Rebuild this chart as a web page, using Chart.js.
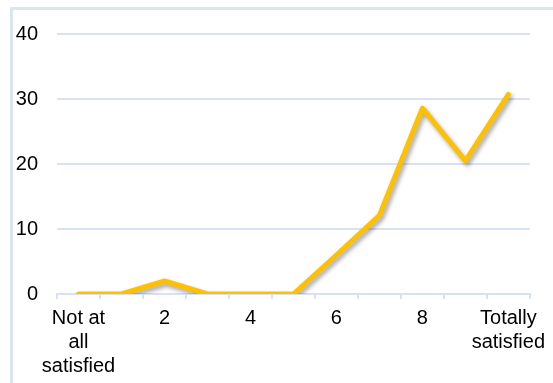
<!DOCTYPE html>
<html>
<head>
<meta charset="utf-8">
<script src="https://cdn.jsdelivr.net/npm/chart.js@4"></script>
<style>
  html, body { margin: 0; padding: 0; background: #fff; overflow: hidden; }
  #wrap { position: relative; width: 553px; height: 383px; }
  #frame { position: absolute; left: 10px; top: 7px; width: 600px; height: 420px;
           border-left: 3px solid #dae5f3; border-top: 3px solid #dae5f3; box-sizing: border-box; }
  #c { position: absolute; left: 0; top: 0; }
</style>
</head>
<body>
<div id="wrap">
  <div id="frame"></div>
  <canvas id="c" width="553" height="383"></canvas>
</div>
<script>
// Satisfaction rating scale (0 = not at all, 10 = totally)
const categories = [
  ["Not at", "all", "satisfied"], "1", "2", "3", "4", "5", "6", "7", "8", "9", ["Totally", "satisfied"]
];
// Share of respondents per rating (%)
const shares = [0, 0, 2, 0, 0, 0, 6, 12.1, 28.6, 20.5, 30.7];
const yTicks = [0, 10, 20, 30, 40];

const gridBlue = '#d7e3f2';
const font = { family: '"Liberation Sans", Arial, sans-serif', size: 20 };

// soft drop shadow under the line
const shadowPlugin = {
  id: 'lineShadow',
  beforeDatasetsDraw(chart) {
    const ctx = chart.ctx;
    ctx.save();
    ctx.shadowColor = 'rgba(0,0,0,0.35)';
    ctx.shadowBlur = 4;
    ctx.shadowOffsetX = 2;
    ctx.shadowOffsetY = 3;
  },
  afterDatasetsDraw(chart) {
    chart.ctx.restore();
  }
};

new Chart(document.getElementById('c'), {
  type: 'line',
  data: {
    labels: categories,
    datasets: [{
      data: shares,
      borderColor: '#ffc000',
      borderWidth: 5,
      borderJoinStyle: 'round',
      borderCapStyle: 'round',
      pointRadius: 0,
      tension: 0,
      fill: false
    }]
  },
  options: {
    responsive: false,
    animation: false,
    devicePixelRatio: 1,
    layout: { padding: { top: 34, right: 21, left: 0, bottom: 0 } },
    plugins: { legend: { display: false }, tooltip: { enabled: false } },
    scales: {
      x: {
        type: 'category',
        offset: true,
        grid: { offset: true, drawOnChartArea: false, drawTicks: true, tickLength: 5, color: gridBlue, lineWidth: 2 },
        border: { display: true, color: gridBlue, width: 2 },
        ticks: {
          autoSkip: false,
          maxRotation: 0,
          minRotation: 0,
          padding: 7,
          color: '#000',
          font: Object.assign({ lineHeight: 1.2 }, font),
          callback: function (val, i) { return i % 2 === 0 ? this.getLabelForValue(val) : ''; }
        },
        afterFit(scale) { scale.height = 89; }
      },
      y: {
        min: 0,
        max: 40,
        afterBuildTicks(scale) { scale.ticks = yTicks.map(v => ({ value: v })); },
        grid: { drawTicks: false, color: gridBlue, lineWidth: 2 },
        border: { display: false },
        ticks: { padding: 19, color: '#000', font: font },
        afterFit(scale) { scale.width = 57; }
      }
    }
  },
  plugins: [shadowPlugin]
});
</script>
</body>
</html>
